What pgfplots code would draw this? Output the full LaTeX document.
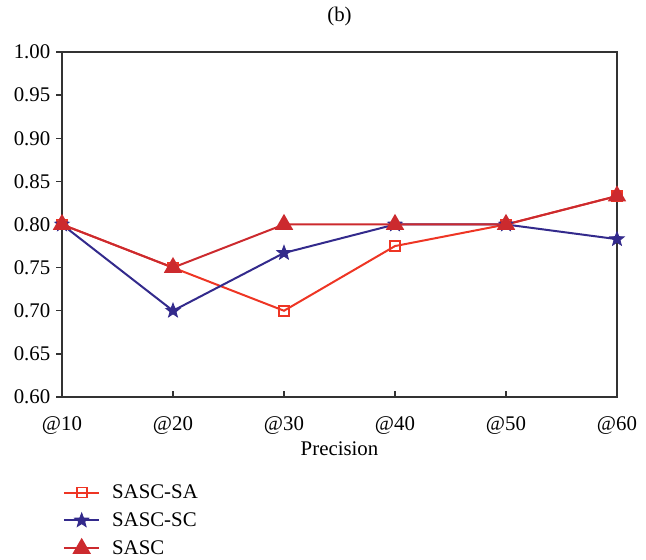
\documentclass[border=0pt]{standalone}
\usepackage{pgfplots}
\pgfplotsset{compat=1.18}
\usepackage{fontspec}
\setmainfont{Liberation Serif}
\definecolor{saC}{HTML}{EE3524}
\definecolor{scC}{HTML}{332A8C}
\definecolor{sascC}{HTML}{CC2A2E}
\definecolor{frameC}{HTML}{333333}
\pgfdeclareplotmark{fstar}{%
  \pgfpathmoveto{\pgfpointpolar{90}{\pgfplotmarksize}}%
  \pgfpathlineto{\pgfpointpolar{126}{0.42\pgfplotmarksize}}%
  \pgfpathlineto{\pgfpointpolar{162}{\pgfplotmarksize}}%
  \pgfpathlineto{\pgfpointpolar{198}{0.42\pgfplotmarksize}}%
  \pgfpathlineto{\pgfpointpolar{234}{\pgfplotmarksize}}%
  \pgfpathlineto{\pgfpointpolar{270}{0.42\pgfplotmarksize}}%
  \pgfpathlineto{\pgfpointpolar{306}{\pgfplotmarksize}}%
  \pgfpathlineto{\pgfpointpolar{342}{0.42\pgfplotmarksize}}%
  \pgfpathlineto{\pgfpointpolar{18}{\pgfplotmarksize}}%
  \pgfpathlineto{\pgfpointpolar{54}{0.42\pgfplotmarksize}}%
  \pgfpathclose
  \pgfusepathqfillstroke}
\begin{document}
\begin{tikzpicture}
\useasboundingbox (-37.2pt,-97.8pt) rectangle (350.4pt,238.2pt);
\begin{axis}[
  scale only axis,
  width=333pt, height=207pt,
  xmin=0, xmax=5, ymin=0.6, ymax=1.0,
  xtick={0,1,2,3,4,5},
  xticklabels={@10,@20,@30,@40,@50,@60},
  ytick={0.60,0.65,0.70,0.75,0.80,0.85,0.90,0.95,1.00},
  yticklabel style={/pgf/number format/fixed,/pgf/number format/fixed zerofill,/pgf/number format/precision=2},
  /pgf/number format/assume math mode=true,
  tick label style={font=\fontsize{12.5}{15}\selectfont, color=black},
  xticklabel style={yshift=-8pt},
  label style={font=\fontsize{12.5}{15}\selectfont},
  xlabel={Precision},
  xlabel style={yshift=2pt},
  title={(b)},
  title style={font=\fontsize{12.5}{15}\selectfont, yshift=6pt},
  axis line style={frameC, line width=0.8pt},
  tick style={frameC, line width=0.8pt},
  xtick pos=bottom, ytick pos=left,
  xtick align=inside, ytick align=outside,
  major tick length=3.5pt,
  legend cell align=left,
  legend style={draw=none, fill=none, at={(-0.008,-0.233)}, anchor=north west,
    font=\fontsize{12.5}{15}\selectfont, row sep=3pt},
  legend image code/.code={\draw[mark repeat=2,mark phase=2] plot coordinates {(0cm,0cm)(0.375cm,0cm)(0.75cm,0cm)};\path (0.75cm+5pt,0cm);},
]
\addplot[saC, line width=1.2pt, mark=square, mark size=3pt, mark options={fill=white, line width=1pt}]
  coordinates {(0,0.80) (1,0.75) (2,0.70) (3,0.775) (4,0.80) (5,0.833)};
\addlegendentry{SASC-SA}
\addplot[scC, line width=1.2pt, mark=fstar, mark size=4.5pt, mark options={fill=scC, line width=0.5pt}]
  coordinates {(0,0.80) (1,0.70) (2,0.767) (3,0.80) (4,0.80) (5,0.783)};
\addlegendentry{SASC-SC}
\addplot[sascC, line width=1.2pt, mark=triangle*, mark size=5.2pt, mark options={fill=sascC}]
  coordinates {(0,0.80) (1,0.75) (2,0.80) (3,0.80) (4,0.80) (5,0.833)};
\addlegendentry{SASC}
\end{axis}
\end{tikzpicture}
\end{document}
